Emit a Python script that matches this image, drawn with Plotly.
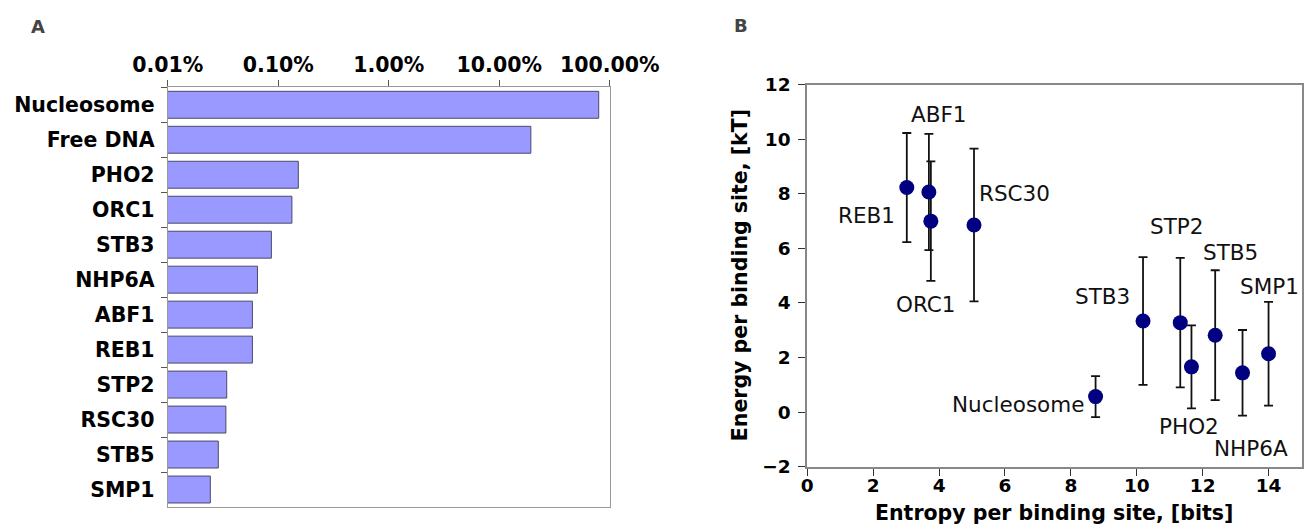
import plotly.graph_objects as go

# Panel A data
categories = ["Nucleosome", "Free DNA", "PHO2", "ORC1", "STB3", "NHP6A",
              "ABF1", "REB1", "STP2", "RSC30", "STB5", "SMP1"]
occupancy_pct = [79.4, 19.3, 0.152, 0.133, 0.0867, 0.0649,
                 0.0584, 0.0584, 0.0342, 0.0336, 0.0287, 0.0243]
a_tickvals = [0.01, 0.1, 1, 10, 100]
a_ticktext = ["0.01%", "0.10%", "1.00%", "10.00%", "100.00%"]

# Panel B data
factors = ["REB1", "ABF1", "ORC1", "RSC30", "STB3", "STP2", "PHO2",
           "STB5", "NHP6A", "SMP1", "Nucleosome"]
entropy = [3.02, 3.69, 3.75, 5.06, 10.19, 11.32, 11.66, 12.38, 13.21, 14.0, 8.75]
energy = [8.23, 8.07, 7.0, 6.86, 3.34, 3.28, 1.66, 2.82, 1.44, 2.14, 0.57]
energy_err = [2.0, 2.13, 2.19, 2.8, 2.34, 2.37, 1.52, 2.38, 1.57, 1.9, 0.75]
label_x = [1.8, 4.0, 3.6, 6.29, 8.96, 11.22, 11.6, 12.85, 13.47, 14.02, 6.41]
label_y = [7.22, 10.9, 3.95, 8.02, 4.23, 6.8, -0.53, 5.86, -1.35, 4.62, 0.29]
b_xticks = [0, 2, 4, 6, 8, 10, 12, 14]
b_yticks = [-2, 0, 2, 4, 6, 8, 10, 12]
b_yticktext = ["\u22122", "0", "2", "4", "6", "8", "10", "12"]
b_xtitle = "Entropy per binding site, [bits]"
b_ytitle = "Energy per binding site, [kT]"

W, H = 1305, 524
FONT = "DejaVu Sans"

fig = go.Figure()
fig.add_trace(go.Bar(
    y=categories, x=occupancy_pct, orientation="h",
    marker=dict(color="#9999ff", line=dict(color="#4a4a6a", width=1)),
    xaxis="x", yaxis="y", showlegend=False,
))
fig.add_trace(go.Scatter(
    x=entropy, y=energy, mode="markers",
    marker=dict(color="#000080", size=15),
    error_y=dict(type="data", array=energy_err, color="#111", thickness=1.8, width=4.5),
    xaxis="x2", yaxis="y2", showlegend=False,
))

boldA = dict(family=FONT, size=20.5, color="black", weight="bold")
boldB = dict(family=FONT, size=18.5, color="black", weight="bold")
boldT = dict(family=FONT, size=20.5, color="black", weight="bold")

annotations = []
for t, lx, ly in zip(factors, label_x, label_y):
    annotations.append(dict(x=lx, y=ly, xref="x2", yref="y2", text=t, showarrow=False,
                            font=dict(family=FONT, size=21.5, color="#111"),
                            xanchor="center", yanchor="middle"))
annotations.append(dict(x=30 / W, y=1 - 26.5 / H, xref="paper", yref="paper", text="<b>A</b>",
                        showarrow=False, font=dict(family=FONT, size=18, color="#444"),
                        xanchor="left", yanchor="middle", xshift=-1))
annotations.append(dict(x=733 / W, y=1 - 25.7 / H, xref="paper", yref="paper", text="<b>B</b>",
                        showarrow=False, font=dict(family=FONT, size=18, color="#444"),
                        xanchor="left", yanchor="middle", xshift=-1))
# axis titles of panel B
annotations.append(dict(x=1054.4 / W, y=1 - 513 / H, xref="paper", yref="paper", text=b_xtitle,
                        showarrow=False, font=boldT, xanchor="center", yanchor="middle"))
annotations.append(dict(x=739.5 / W, y=1 - 275.7 / H, xref="paper", yref="paper", text=b_ytitle,
                        showarrow=False, font=boldT, xanchor="center", yanchor="middle",
                        textangle=-90))

fig.update_layout(
    width=W, height=H,
    margin=dict(l=0, r=0, t=0, b=0, autoexpand=False),
    paper_bgcolor="white", plot_bgcolor="white",
    bargap=0.23,
    font=dict(family=FONT, color="black"),
    annotations=annotations,
    xaxis=dict(
        domain=[167.7 / W, 609.8 / W], anchor="y", type="log", range=[-2, 2], side="top",
        tickvals=a_tickvals, ticktext=a_ticktext, tickangle=0, automargin=False,
        tickfont=boldA, ticklabelstandoff=0,
        ticks="outside", ticklen=6, tickcolor="#555", showgrid=False,
        showline=True, linecolor="#999", linewidth=1, mirror=True, zeroline=False,
    ),
    yaxis=dict(
        domain=[1 - 507 / H, 1 - 87.3 / H], anchor="x", type="category", automargin=False,
        categoryorder="array", categoryarray=categories, range=[11.5, -0.5],
        tickson="boundaries", ticks="outside", ticklen=6, tickcolor="#555",
        tickfont=boldA,
        showline=True, linecolor="#999", linewidth=1, mirror=True, showgrid=False,
        ticklabelstandoff=8,
    ),
    xaxis2=dict(
        domain=[807.3 / W, 1301.5 / W], anchor="y2", range=[0, 15], automargin=False,
        tickvals=b_xticks, ticks="outside", ticklen=7, tickcolor="#333", tickangle=0,
        tickfont=boldB, ticklabelstandoff=-6,
        showline=True, linecolor="#888", linewidth=2, mirror=True, showgrid=False, zeroline=False,
    ),
    yaxis2=dict(
        domain=[1 - 466.7 / H, 1 - 84.7 / H], anchor="x2", range=[-2, 12], automargin=False,
        tickvals=b_yticks, ticktext=b_yticktext, ticks="outside", ticklen=7, tickcolor="#333",
        tickfont=boldB, ticklabelstandoff=4,
        showline=True, linecolor="#888", linewidth=2, mirror=True, showgrid=False, zeroline=False,
    ),
)

fig.write_html("out.html", config={"displayModeBar": False},
               post_script="document.body.style.margin='0';")
